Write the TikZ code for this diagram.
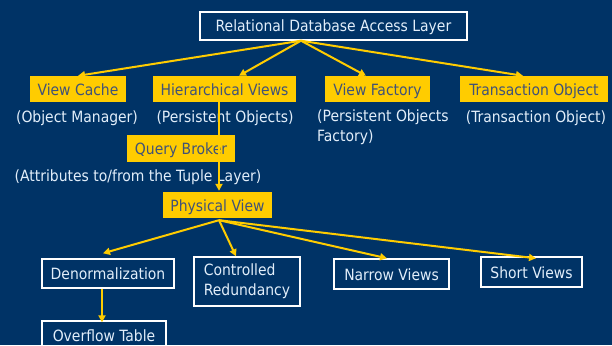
\documentclass[tikz,border=0pt]{standalone}
\usepackage{fontspec}
\setmainfont{DejaVu Sans Condensed}
\usetikzlibrary{arrows.meta}

\definecolor{navy}{RGB}{0,51,102}
\definecolor{gold}{RGB}{255,204,0}
\definecolor{slate}{RGB}{64,82,120}
\definecolor{pale}{RGB}{226,238,250}

\tikzset{
  every node/.style={font=\fontsize{15.5}{20}\selectfont, inner sep=0pt},
  oneline/.style={text height=12pt, text depth=0pt},
  goldbox/.style={oneline, fill=gold, text=slate, minimum height=26pt},
  framebox/.style={draw=white, line width=1.4pt, text=pale},
  note/.style={text=pale},
  arr/.style={draw=gold, line width=2pt, -{Triangle[length=7pt,width=7pt]}},
}

\begin{document}
\begin{tikzpicture}[x=1pt,y=-1pt]
  \fill[navy] (0,0) rectangle (612,345);
  \useasboundingbox (0,0) rectangle (612,345);

  % access layer
  \node[framebox, oneline, minimum width=267pt, minimum height=28pt] (rdal) at (333.5,26) {Relational Database Access Layer};
  \coordinate (rdalfan) at ([xshift=-32.5pt]rdal.south);

  % object level
  \node[goldbox, minimum width=96pt]  (vcache)   at (78,89)    {View Cache};
  \node[goldbox, minimum width=143pt] (hviews)   at (224.5,89) {Hierarchical Views};
  \node[goldbox, minimum width=105pt] (vfactory) at (377.5,89) {View Factory};
  \node[goldbox, minimum width=148pt] (tobject)  at (534,89)   {Transaction Object};

  \node[note, oneline] (vcachenote) at (77,116)  {(Object Manager)};
  \node[note, oneline] (hviewsnote) at (225,116) {(Persistent Objects)};
  \node[note, anchor=north west, align=left] (vfactorynote) at (317,110) {(Persistent Objects\\Factory)};
  \node[note, oneline] (tobjectnote) at (536,116) {(Transaction Object)};

  % broker and physical view
  \node[goldbox, minimum width=108pt, minimum height=27pt] (qbroker) at (181,148.5) {Query Broker};
  \node[note, oneline] (qbrokernote) at (138,175) {(Attributes to/from the Tuple Layer)};
  \node[goldbox, minimum width=109pt] (pview) at (217.5,205) {Physical View};
  \coordinate (pviewfan) at ([xshift=1.5pt,yshift=-2pt]pview.south);

  % physical variants
  \node[framebox, oneline, minimum width=132pt, minimum height=29pt] (denorm) at (108,273.5) {Denormalization};
  \node[framebox, minimum width=106pt, minimum height=49pt, align=left] (credund) at (247,281.5) {Controlled\\Redundancy};
  \node[framebox, oneline, minimum width=115pt, minimum height=30pt] (narrow) at (391.5,274) {Narrow Views};
  \node[framebox, oneline, minimum width=101pt, minimum height=30pt] (short) at (531.5,272) {Short Views};
  \node[framebox, oneline, minimum width=124pt, minimum height=29pt] (overflow) at (104,335.5) {Overflow Table};

  % connectors
  \draw[arr] (rdalfan) -- (vcache.north);
  \draw[arr] (rdalfan) -- ([xshift=14.5pt]hviews.north);
  \draw[arr] (rdalfan) -- ([xshift=-11.5pt]vfactory.north);
  \draw[arr] (rdalfan) -- ([xshift=-11pt]tobject.north);

  \draw[arr] ([xshift=-5.5pt]hviews.south) -- ([xshift=1.5pt,yshift=1pt]pview.north);

  \draw[arr] (pviewfan) -- ([xshift=-5pt,yshift=5pt]denorm.north);
  \draw[arr] (pviewfan) -- ([xshift=-11pt]credund.north);
  \draw[arr] (pviewfan) -- ([xshift=-4.5pt]narrow.north);
  \draw[arr] (pviewfan) -- ([xshift=4.5pt,yshift=-2pt]short.north);

  \draw[arr] ([xshift=-6pt]denorm.south) -- ([xshift=-2pt,yshift=-2pt]overflow.north);
\end{tikzpicture}
\end{document}
